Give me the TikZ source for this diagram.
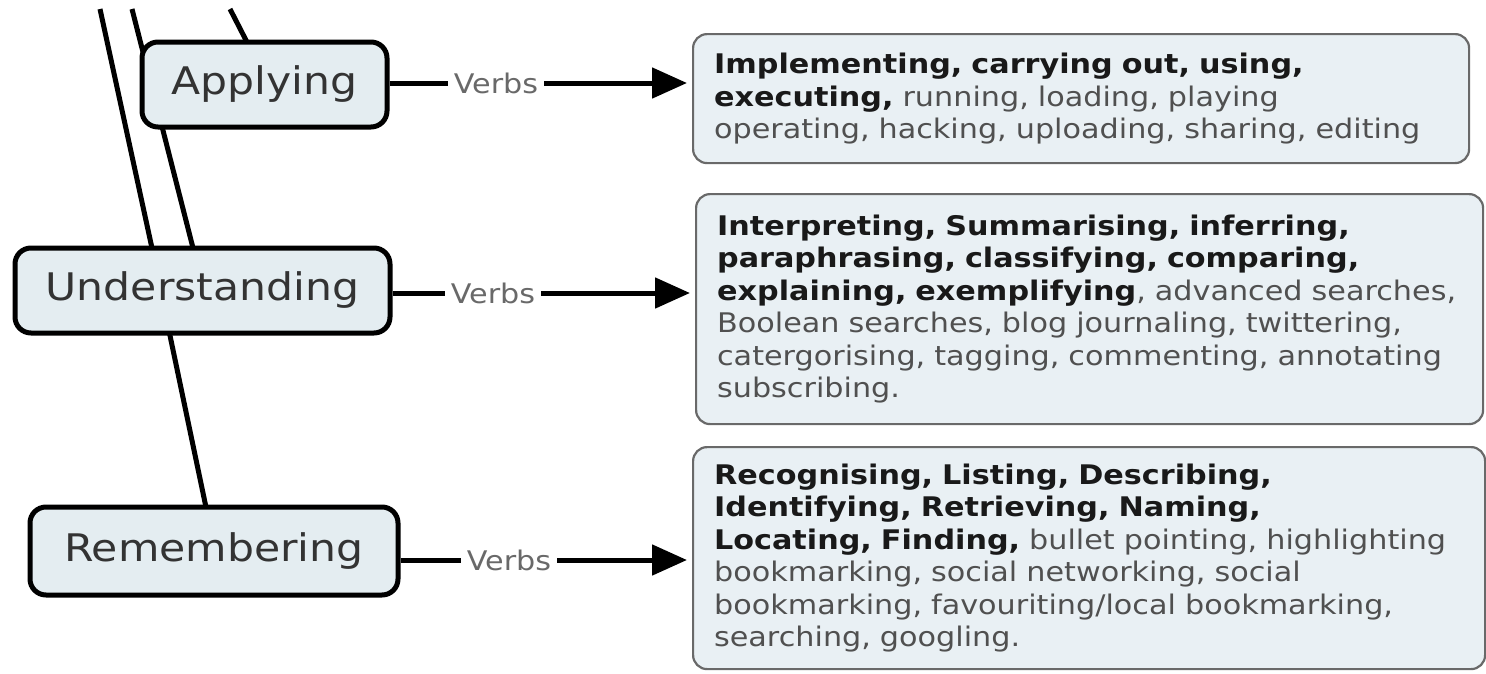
\documentclass[tikz,border=0pt]{standalone}
\usepackage{fontspec}
\setmainfont[FakeStretch=1.12]{DejaVu Sans}
\usetikzlibrary{arrows.meta,backgrounds}

\definecolor{boxfill}{RGB}{233,240,244}
\definecolor{levelfill}{RGB}{228,237,241}
\definecolor{boxline}{RGB}{105,105,105}
\definecolor{plaintext}{RGB}{80,80,80}
\definecolor{boldtext}{RGB}{25,25,25}
\definecolor{verbtext}{RGB}{105,105,105}
\newcommand{\kw}[1]{{\bfseries\color{boldtext}#1}}

\begin{document}
\begin{tikzpicture}[x=1pt, y=-1pt,
    level/.style={draw=black, line width=5pt, fill=levelfill, rounded corners=16pt,
        inner sep=0pt, text=black!80, font=\fontsize{38}{40}\selectfont},
    verbs/.style={text=verbtext, inner xsep=6pt, inner ysep=2pt, font=\fontsize{27}{30}\selectfont},
    verbbox/.style={draw=boxline, line width=2.2pt, fill=boxfill, rounded corners=14pt,
        anchor=north west, inner xsep=21pt, inner ysep=0pt, align=left,
        text=plaintext, font=\fontsize{27}{32.5}\selectfont},
    link/.style={line width=5pt},
    arrow/.style={line width=5pt, shorten >=5pt, -{Triangle[length=35pt,width=30pt]}}]

    \useasboundingbox (0,0) rectangle (1486,673);

    % Úrovně
    \node[level, minimum width=245pt, minimum height=85pt] (app) at (264.5,84.5) {Applying};
    \node[level, minimum width=375pt, minimum height=85pt] (und) at (202.5,290.5) {Understanding};
    \node[level, minimum width=368pt, minimum height=88pt] (rem) at (214,551) {Remembering};

    % Rámečky se slovesy
    \node[verbbox, text width=734pt, minimum height=129pt] (boxA) at (692,33) {%
        \kw{Implementing, carrying out, using,}\\
        \kw{executing,} running, loading, playing\\
        operating, hacking, uploading, sharing, editing};
    \node[verbbox, text width=745pt, minimum height=230pt] (boxB) at (695,193) {%
        \kw{Interpreting, Summarising, inferring,}\\
        \kw{paraphrasing, classifying, comparing,}\\
        \kw{explaining, exemplifying}, advanced searches,\\
        Boolean searches, blog journaling, twittering,\\
        catergorising, tagging, commenting, annotating\\
        subscribing.};
    \node[verbbox, text width=750pt, minimum height=222pt] (boxC) at (692,446) {%
        \kw{Recognising, Listing, Describing,}\\
        \kw{Identifying, Retrieving, Naming,}\\
        \kw{Locating, Finding,} bullet pointing, highlighting\\
        bookmarking, social networking, social\\
        bookmarking, favouriting/local bookmarking,\\
        searching, googling.};

    % Popisky "Verbs" a šipky
    \node[verbs] (verbA) at (496,83) {Verbs};
    \node[verbs] (verbB) at (493,293) {Verbs};
    \node[verbs] (verbC) at (509,560) {Verbs};
    \foreach \lvl/\v/\b in {app/verbA/boxA, und/verbB/boxB, rem/verbC/boxC} {
        \draw[link] (\v.west -| \lvl.east) -- (\v.west);
        \draw[arrow] (\v.east) -- (\v.east -| \b.west);
    }

    % Spojnice vlevo (pod rámečky)
    \coordinate (top1) at (100,9);   \coordinate (end1) at (153.5,255);
    \coordinate (top2) at (132,9);   \coordinate (end2) at (194.8,255);
    \coordinate (top3) at (230,9);   \coordinate (end3) at (250,48);
    \coordinate (top4) at (168,326); \coordinate (end4) at (207,512);
    \begin{scope}[on background layer]
        \fill[white] (0,0) rectangle (1486,673);
        \foreach \i in {1,...,4} {
            \draw[link] (top\i) -- (end\i);
        }
    \end{scope}
\end{tikzpicture}
\end{document}
